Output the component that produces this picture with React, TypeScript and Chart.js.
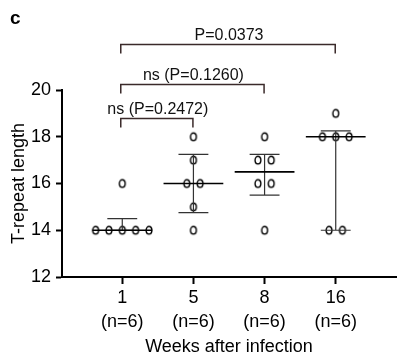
import React, { useEffect, useRef } from "react";
import { Chart, registerables } from "chart.js";

Chart.register(...registerables);

// ---- data ----
const categories = ["1", "5", "8", "16"];
const sampleSizes = [6, 6, 6, 6];
const week1 = [14, 14, 14, 14, 14, 16];
const week5 = [18, 17, 16, 16, 15, 14];
const week8 = [18, 17, 17, 16, 16, 14];
const week16 = [19, 18, 18, 18, 14, 14];
const groups = [week1, week5, week8, week16];
const yTicks = [12, 14, 16, 18, 20];
const comparisonFrom = [0, 0, 0];
const comparisonTo = [1, 2, 3];
const comparisonLabels = ["ns (P=0.2472)", "ns (P=0.1260)", "P=0.0373"];
const comparisonLevels = [18.8, 20.25, 21.95];
const xTitle = "Weeks after infection";
const yTitle = "T-repeat length";
const panelLabel = "c";

// ---- style ----
const FONT = "'Liberation Sans', Arial, sans-serif";
const JITTER = 0.1875;
const MEDIAN_HALF = 0.42;
const CAP_HALF = 0.21;

function quantile(sorted: number[], p: number) {
  const n = sorted.length;
  let h = p * (n + 1) - 1;
  if (h < 0) h = 0;
  if (h > n - 1) h = n - 1;
  const lo = Math.floor(h);
  const frac = h - lo;
  const hi = Math.min(lo + 1, n - 1);
  return sorted[lo] + frac * (sorted[hi] - sorted[lo]);
}

function buildPoints() {
  const pts: { x: number; y: number }[] = [];
  groups.forEach((g, gi) => {
    const counts: Record<number, number> = {};
    g.forEach((v) => (counts[v] = (counts[v] || 0) + 1));
    const seen: Record<number, number> = {};
    g.forEach((v) => {
      const n = counts[v];
      const i = seen[v] || 0;
      seen[v] = i + 1;
      pts.push({ x: gi + 1 + (i - (n - 1) / 2) * JITTER, y: v });
    });
  });
  return pts;
}

function makeMarker() {
  const c = document.createElement("canvas");
  c.width = 10;
  c.height = 12;
  const ctx = c.getContext("2d")!;
  ctx.strokeStyle = "#000";
  ctx.lineWidth = 1.4;
  ctx.beginPath();
  ctx.ellipse(5, 6, 2.9, 3.8, 0, 0, Math.PI * 2);
  ctx.stroke();
  return c;
}

const overlayPlugin = {
  id: "overlay",
  afterDatasetsDraw(chart: any) {
    const ctx = chart.ctx;
    const xs = chart.scales.x;
    const ys = chart.scales.y;
    const unit = xs.getPixelForValue(1) - xs.getPixelForValue(0);
    ctx.save();
    groups.forEach((g, gi) => {
      const s = [...g].sort((a, b) => a - b);
      const med = quantile(s, 0.5);
      const q1 = quantile(s, 0.25);
      const q3 = quantile(s, 0.75);
      const cx = xs.getPixelForValue(gi + 1);
      const yq1 = ys.getPixelForValue(q1);
      const yq3 = ys.getPixelForValue(q3);
      const ym = ys.getPixelForValue(med);
      ctx.strokeStyle = "#333";
      ctx.lineWidth = 1.2;
      ctx.beginPath();
      ctx.moveTo(cx, yq1);
      ctx.lineTo(cx, yq3);
      ctx.moveTo(cx - CAP_HALF * unit, yq1);
      ctx.lineTo(cx + CAP_HALF * unit, yq1);
      ctx.moveTo(cx - CAP_HALF * unit, yq3);
      ctx.lineTo(cx + CAP_HALF * unit, yq3);
      ctx.stroke();
      ctx.strokeStyle = "#000";
      ctx.lineWidth = 1.7;
      ctx.beginPath();
      ctx.moveTo(cx - MEDIAN_HALF * unit, ym);
      ctx.lineTo(cx + MEDIAN_HALF * unit, ym);
      ctx.stroke();
    });
    // comparison brackets
    comparisonLabels.forEach((label, i) => {
      const x1 = xs.getPixelForValue(comparisonFrom[i] + 1) - 1.5;
      const x2 = xs.getPixelForValue(comparisonTo[i] + 1) - 0.5;
      const y = Math.round(ys.getPixelForValue(comparisonLevels[i])) + 0.5;
      ctx.strokeStyle = "#3a2a2a";
      ctx.lineWidth = 1.5;
      ctx.beginPath();
      ctx.moveTo(x1, y + 9);
      ctx.lineTo(x1, y);
      ctx.lineTo(x2, y);
      ctx.lineTo(x2, y + 9);
      ctx.stroke();
      ctx.fillStyle = "#111";
      ctx.font = `16px ${FONT}`;
      ctx.textAlign = "center";
      ctx.textBaseline = "alphabetic";
      ctx.fillText(label, (x1 + x2) / 2 + 1, y - 4.5);
    });
    ctx.fillStyle = "#000";
    ctx.font = `bold 19px ${FONT}`;
    ctx.textAlign = "left";
    ctx.textBaseline = "middle";
    ctx.fillText(panelLabel, 10, 19);
    ctx.restore();
  },
};

export default function App() {
  const ref = useRef<HTMLCanvasElement>(null);
  useEffect(() => {
    if (!ref.current) return;
    const chart = new Chart(ref.current, {
      type: "scatter",
      data: {
        datasets: [
          {
            data: buildPoints(),
            pointStyle: makeMarker() as any,
            pointRadius: 4,
            showLine: false,
          },
        ],
      },
      options: {
        responsive: false,
        animation: false,
        layout: { padding: { top: 90, right: 1, left: 0, bottom: 0 } },
        plugins: { legend: { display: false }, tooltip: { enabled: false } },
        scales: {
          x: {
            type: "linear",
            min: 0.153,
            max: 4.847,
            afterBuildTicks: (s: any) => {
              s.ticks = categories.map((_, i) => ({ value: i + 1 }));
            },
            afterFit: (s: any) => {
              s.height = 83;
            },
            ticks: {
              autoSkip: false,
              maxRotation: 0,
              padding: 2,
              color: "#000",
              font: { family: FONT, size: 18, lineHeight: 1.33 },
              callback: (v: any) => {
                const i = Math.round(Number(v)) - 1;
                return [categories[i], `(n=${sampleSizes[i]})`];
              },
            },
            grid: {
              drawOnChartArea: false,
              drawTicks: true,
              tickLength: 7,
              tickWidth: 2,
              tickColor: "#000",
            },
            border: { display: true, width: 2, color: "#000" },
            title: {
              display: true,
              text: xTitle,
              color: "#000",
              font: { family: FONT, size: 18 },
              padding: { top: 0, bottom: 2 },
            },
          },
          y: {
            min: 12,
            max: 20,
            afterBuildTicks: (s: any) => {
              s.ticks = yTicks.map((v) => ({ value: v }));
            },
            afterFit: (s: any) => {
              s.width = 62;
            },
            ticks: {
              padding: 5,
              color: "#000",
              font: { family: FONT, size: 18 },
            },
            grid: {
              drawOnChartArea: false,
              drawTicks: true,
              tickLength: 6,
              tickWidth: 2,
              tickColor: "#000",
            },
            border: { display: true, width: 2, color: "#000" },
            title: {
              display: true,
              text: yTitle,
              color: "#000",
              font: { family: FONT, size: 18 },
              padding: { top: 8, bottom: 0 },
            },
          },
        },
      },
      plugins: [overlayPlugin],
    });
    return () => chart.destroy();
  }, []);
  return (
    <div style={{ position: "fixed", left: 0, top: 0, width: 401, height: 360, background: "#fff" }}>
      <canvas ref={ref} width={401} height={360} style={{ width: 401, height: 360 }} />
    </div>
  );
}
